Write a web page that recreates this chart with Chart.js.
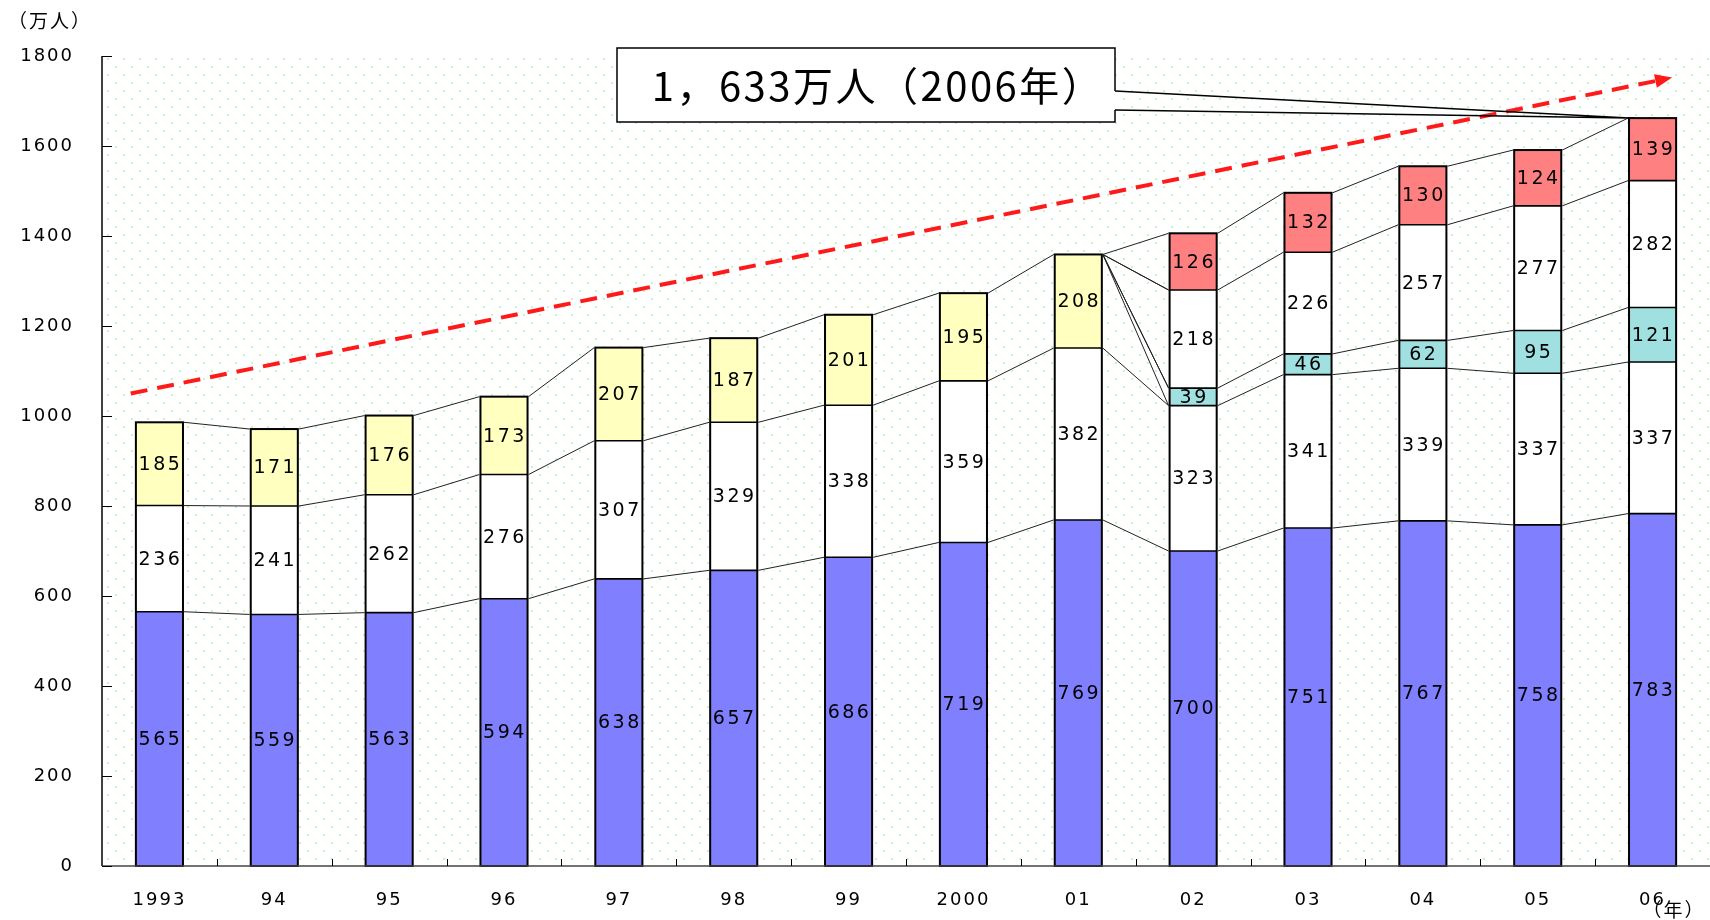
<!DOCTYPE html>
<html>
<head>
<meta charset="utf-8">
<script src="https://cdn.jsdelivr.net/npm/chart.js@4/dist/chart.umd.min.js"></script>
<style>
  html, body { margin: 0; padding: 0; background: #fff; }
  #wrap { width: 1710px; height: 920px; }
</style>
</head>
<body>
<div id="wrap"><canvas id="chart" width="1710" height="920"></canvas></div>
<script>
// data (万人)
const years = ["1993", "94", "95", "96", "97", "98", "99", "2000", "01", "02", "03", "04", "05", "06"];
const seriesBlue = [565, 559, 563, 594, 638, 657, 686, 719, 769, 700, 751, 767, 758, 783];
const seriesWhiteLow = [236, 241, 262, 276, 307, 329, 338, 359, 382, 323, 341, 339, 337, 337];
const seriesCyan = [null, null, null, null, null, null, null, null, null, 39, 46, 62, 95, 121];
const seriesWhiteHigh = [null, null, null, null, null, null, null, null, null, 218, 226, 257, 277, 282];
const seriesYellow = [185, 171, 176, 173, 207, 187, 201, 195, 208, null, null, null, null, null];
const seriesRed = [null, null, null, null, null, null, null, null, null, 126, 132, 130, 124, 139];
const yTicks = [0, 200, 400, 600, 800, 1000, 1200, 1400, 1600, 1800];

// trend arrow, in (category index, value)
const trendFrom = [-0.25, 1050];
const trendTo = [13.17, 1752];
const calloutText = "1，633万人（2006年）";

const labelFont = "19px 'DejaVu Sans'";

function makeDots(ctx) {
  let c = document.createElement("canvas");
  c.width = 16;
  c.height = 16;
  let g = c.getContext("2d");
  g.fillStyle = "#fff";
  g.fillRect(0, 0, 16, 16);
  g.fillStyle = "#c9f3c9";
  g.fillRect(3, 2, 2, 2);
  g.fillRect(11, 10, 2, 2);
  return ctx.createPattern(c, "repeat");
}

const decorPlugin = {
  id: "decor",
  beforeDraw(chart) {
    let ctx = chart.ctx;
    let a = chart.chartArea;
    ctx.save();
    ctx.fillStyle = "#fff";
    ctx.fillRect(0, 0, chart.width, chart.height);
    ctx.fillStyle = makeDots(ctx);
    ctx.fillRect(a.left, a.top, a.right - a.left, a.bottom - a.top);
    ctx.restore();
    ctx.letterSpacing = "2px";
  },
  afterDatasetsDraw(chart) {
    let ctx = chart.ctx;
    let a = chart.chartArea;
    let xs = chart.scales.x;
    let ys = chart.scales.y;
    let metas = chart.data.datasets.map((d, i) => chart.getDatasetMeta(i));

    // stack boundaries of each bar
    function bounds(i) {
      let out = [];
      metas.forEach((m, d) => {
        let v = chart.data.datasets[d].data[i];
        if (v === null) return;
        let el = m.data[i];
        out.push({ d: d, top: el.y, base: el.base, x: el.x, w: el.width });
      });
      return out;
    }

    // outline of each whole bar, plus the lines between segments
    ctx.save();
    ctx.strokeStyle = "#000";
    years.forEach((y, i) => {
      let b = bounds(i);
      let left = b[0].x - b[0].w / 2;
      let top = b[b.length - 1].top;
      ctx.lineWidth = 1.6;
      ctx.beginPath();
      b.slice(0, -1).forEach((s) => {
        ctx.moveTo(left, s.top);
        ctx.lineTo(left + b[0].w, s.top);
      });
      ctx.stroke();
      ctx.lineWidth = 2;
      ctx.strokeRect(left, top, b[0].w, b[0].base - top);
    });
    ctx.restore();

    ctx.save();
    ctx.strokeStyle = "#222";
    ctx.lineWidth = 1;
    for (let i = 0; i < years.length - 1; i++) {
      let b1 = bounds(i);
      let b2 = bounds(i + 1);
      let x1 = b1[0].x + b1[0].w / 2 + 1;
      let x2 = b2[0].x - b2[0].w / 2 - 1;
      let top1 = b1[b1.length - 1].top;
      b2.forEach((s) => {
        let prev = b1.find((p) => p.d === s.d);
        ctx.beginPath();
        if (prev) {
          ctx.moveTo(x1, prev.top);
          ctx.lineTo(x2, s.top);
        } else {
          ctx.moveTo(x1, top1);
          ctx.lineTo(x2, s.top);
          ctx.moveTo(x1, top1);
          ctx.lineTo(x2, s.base);
        }
        ctx.stroke();
      });
    }
    ctx.restore();

    // segment values
    ctx.save();
    ctx.font = labelFont;
    ctx.letterSpacing = "2.5px";
    ctx.fillStyle = "#000";
    ctx.textAlign = "center";
    ctx.textBaseline = "middle";
    metas.forEach((m, d) => {
      chart.data.datasets[d].data.forEach((v, i) => {
        if (v === null) return;
        let el = m.data[i];
        ctx.fillText(String(v), el.x + 1, (el.y + el.base) / 2 + 1);
      });
    });
    ctx.restore();

    // inward ticks and axis lines
    ctx.save();
    ctx.strokeStyle = "#000";
    ctx.lineWidth = 1.5;
    ctx.beginPath();
    ctx.moveTo(a.left, a.top);
    ctx.lineTo(a.left, a.bottom);
    ctx.stroke();
    ctx.strokeStyle = "#444";
    ctx.beginPath();
    ctx.moveTo(a.left, a.bottom);
    ctx.lineTo(a.right, a.bottom);
    ctx.stroke();
    ctx.strokeStyle = "#000";
    ctx.lineWidth = 1;
    yTicks.forEach((t) => {
      let y = Math.round(ys.getPixelForValue(t)) + 0.5;
      ctx.beginPath();
      ctx.moveTo(a.left, y);
      ctx.lineTo(a.left + 10, y);
      ctx.stroke();
    });
    for (let i = 1; i < years.length; i++) {
      let x = Math.round(xs.getPixelForValue(i - 0.5)) + 0.5;
      ctx.beginPath();
      ctx.moveTo(x, a.bottom);
      ctx.lineTo(x, a.bottom - 7);
      ctx.stroke();
    }
    ctx.restore();

    // dashed trend arrow
    let p1 = [xs.getPixelForValue(trendFrom[0]), ys.getPixelForValue(trendFrom[1])];
    let p2 = [xs.getPixelForValue(trendTo[0]), ys.getPixelForValue(trendTo[1])];
    let ang = Math.atan2(p2[1] - p1[1], p2[0] - p1[0]);
    let headLen = 17;
    ctx.save();
    ctx.strokeStyle = "#ff1a1a";
    ctx.fillStyle = "#ff1a1a";
    ctx.lineWidth = 4;
    ctx.setLineDash([17, 10]);
    ctx.beginPath();
    ctx.moveTo(p1[0], p1[1]);
    ctx.lineTo(p2[0] - headLen * Math.cos(ang), p2[1] - headLen * Math.sin(ang));
    ctx.stroke();
    ctx.setLineDash([]);
    ctx.beginPath();
    ctx.moveTo(p2[0], p2[1]);
    ctx.lineTo(p2[0] - headLen * Math.cos(ang) + 7 * Math.sin(ang), p2[1] - headLen * Math.sin(ang) - 7 * Math.cos(ang));
    ctx.lineTo(p2[0] - headLen * Math.cos(ang) - 7 * Math.sin(ang), p2[1] - headLen * Math.sin(ang) + 7 * Math.cos(ang));
    ctx.closePath();
    ctx.fill();
    ctx.restore();

    // callout box pointing at the 2006 bar top
    let last = bounds(years.length - 1);
    let tip = [last[0].x - last[0].w / 2, last[last.length - 1].top];
    let bx = 617, by = 48, bw = 498, bh = 74;
    ctx.save();
    ctx.fillStyle = "#fff";
    ctx.strokeStyle = "#000";
    ctx.lineWidth = 1.5;
    ctx.fillRect(bx, by, bw, bh);
    ctx.strokeRect(bx, by, bw, bh);
    ctx.fillRect(bx + bw - 1, by + 43, 3, 19);
    ctx.lineWidth = 1.5;
    ctx.beginPath();
    ctx.moveTo(bx + bw, by + 43);
    ctx.lineTo(tip[0], tip[1]);
    ctx.lineTo(bx + bw, by + 62);
    ctx.moveTo(tip[0] - 2, tip[1]);
    ctx.lineTo(tip[0] + 6, tip[1]);
    ctx.stroke();
    ctx.fillStyle = "#000";
    ctx.font = "40px 'Noto Sans CJK JP'";
    ctx.letterSpacing = "2.5px";
    ctx.textAlign = "center";
    ctx.textBaseline = "middle";
    ctx.fillText(calloutText, bx + bw / 2 + 12, by + bh / 2 + 1);
    ctx.restore();

    // unit labels
    ctx.save();
    ctx.fillStyle = "#000";
    ctx.font = "19px 'Noto Sans CJK JP'";
    ctx.letterSpacing = "2px";
    ctx.textAlign = "center";
    ctx.textBaseline = "middle";
    ctx.fillText("（万人）", 50, 21);
    ctx.fillText("（年）", 1674, 910);
    ctx.restore();
  },
};

const ds = (label, data, color) => ({
  label: label,
  data: data,
  backgroundColor: color,
  borderColor: "#000",
  borderWidth: 0,
  borderSkipped: false,
  barPercentage: 0.41,
  categoryPercentage: 1,
});

new Chart(document.getElementById("chart"), {
  type: "bar",
  data: {
    labels: years,
    datasets: [
      ds("blue", seriesBlue, "#8080ff"),
      ds("white-low", seriesWhiteLow, "#ffffff"),
      ds("cyan", seriesCyan, "#a0e0e0"),
      ds("white-high", seriesWhiteHigh, "#ffffff"),
      ds("yellow", seriesYellow, "#ffffc0"),
      ds("red", seriesRed, "#ff8080"),
    ],
  },
  options: {
    responsive: false,
    animation: false,
    layout: { padding: { top: 56, right: 0, left: 0, bottom: 0 } },
    plugins: {
      legend: { display: false },
      tooltip: { enabled: false },
    },
    scales: {
      x: {
        stacked: true,
        grid: { display: false },
        border: { display: false },
        ticks: { color: "#000", font: { family: "DejaVu Sans", size: 18 }, padding: 16, maxRotation: 0, autoSkip: false },
        afterFit(scale) {
          scale.height = 54;
        },
      },
      y: {
        stacked: true,
        min: 0,
        max: 1800,
        grid: { display: false },
        border: { display: false },
        ticks: {
          stepSize: 200,
          color: "#000",
          font: { family: "DejaVu Sans", size: 18 },
          padding: 20,
          callback: (v) => String(v),
        },
        afterFit(scale) {
          scale.width = 102;
        },
      },
    },
  },
  plugins: [decorPlugin],
});
</script>
</body>
</html>
